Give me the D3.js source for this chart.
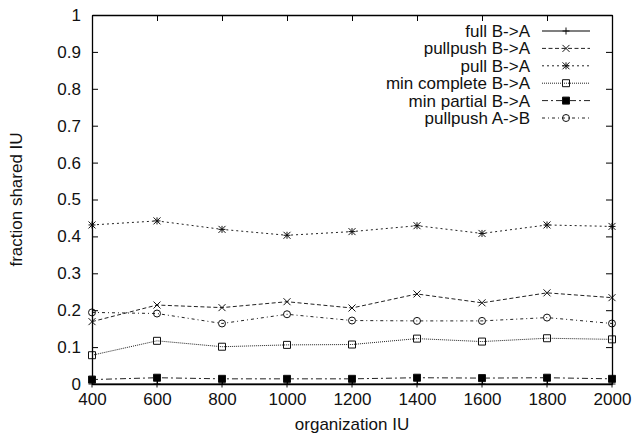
<!DOCTYPE html>
<html lang="en">
	<head>
		<meta charset="utf-8">
		<title>fraction shared IU</title>
		<script src="https://d3js.org/d3.v7.min.js"></script>
		<style type="text/css">
			body { margin: 0; background: #fff; }
			text { font-family: "Liberation Sans", Arial, sans-serif; font-size: 17px; fill: #111; }
		</style>
	</head>
	<body>
		<script type="text/javascript">

			const w = 636;
			const h = 438;
			const padL = 92, padR = 612, padT = 15, padB = 384;

			// data
			const orgIU = [400, 600, 800, 1000, 1200, 1400, 1600, 1800, 2000];
			const fullBA = [0, 0, 0, 0, 0, 0, 0, 0, 0];
			const pullpushBA = [0.169, 0.214, 0.207, 0.223, 0.206, 0.244, 0.220, 0.247, 0.234];
			const pullBA = [0.431, 0.442, 0.419, 0.403, 0.413, 0.429, 0.408, 0.431, 0.427];
			const minCompleteBA = [0.078, 0.117, 0.101, 0.106, 0.107, 0.123, 0.115, 0.124, 0.121];
			const minPartialBA = [0.012, 0.017, 0.014, 0.014, 0.014, 0.017, 0.016, 0.017, 0.014];
			const pullpushAB = [0.194, 0.191, 0.164, 0.189, 0.172, 0.171, 0.171, 0.180, 0.164];
			const yTicks = [0, 0.1, 0.2, 0.3, 0.4, 0.5, 0.6, 0.7, 0.8, 0.9, 1];
			const xTicks = [400, 600, 800, 1000, 1200, 1400, 1600, 1800, 2000];

			const series = [
				{ name: "full B->A", values: fullBA, dash: null, marker: "plus" },
				{ name: "pullpush B->A", values: pullpushBA, dash: "4,2.5", marker: "cross" },
				{ name: "pull B->A", values: pullBA, dash: "2,3", marker: "star" },
				{ name: "min complete B->A", values: minCompleteBA, dash: "1,1", marker: "box" },
				{ name: "min partial B->A", values: minPartialBA, dash: "6,3,2,3", marker: "fbox" },
				{ name: "pullpush A->B", values: pullpushAB, dash: "3,3,1,3", marker: "circle" }
			];

			const xScale = d3.scaleLinear().domain([400, 2000]).range([padL, padR]);
			const yScale = d3.scaleLinear().domain([0, 1]).range([padB, padT]);

			const svg = d3.select("body")
						.append("svg")
						.attr("width", w)
						.attr("height", h);

			const markerPath = (type, s) => {
				if (type === "plus") return `M${-s},0H${s}M0,${-s}V${s}`;
				if (type === "cross") return `M${-s},${-s}L${s},${s}M${-s},${s}L${s},${-s}`;
				if (type === "star") return `M${-s},0H${s}M0,${-s}V${s}M${-s},${-s}L${s},${s}M${-s},${s}L${s},${-s}`;
				if (type === "box" || type === "fbox") return `M${-s},${-s}H${s}V${s}H${-s}Z`;
				return d3.arc()({ innerRadius: 0, outerRadius: s, startAngle: 0, endAngle: 2 * Math.PI });
			};

			const drawMarker = (g, type, x, y) => {
				g.append("path")
					.attr("d", markerPath(type, 3.5))
					.attr("transform", "translate(" + x + "," + y + ")")
					.attr("fill", type === "fbox" ? "#000" : "none")
					.attr("stroke", "#111")
					.attr("stroke-width", 1);
			};

			const line = d3.line()
				.x((d, i) => xScale(orgIU[i]))
				.y((d) => yScale(d));

			series.forEach((s) => {
				const g = svg.append("g");
				g.append("path")
					.attr("d", line(s.values))
					.attr("fill", "none")
					.attr("stroke", s.dash ? "#222" : "#555")
					.attr("stroke-width", s.dash ? 1 : 1.5)
					.attr("stroke-dasharray", s.dash);
				s.values.forEach((v, i) => drawMarker(g, s.marker, xScale(orgIU[i]), yScale(v)));
			});

			// frame and ticks (gnuplot style, inward + mirrored)
			const axes = svg.append("g");
			axes.append("g")
				.attr("transform", "translate(0," + padB + ")")
				.call(d3.axisBottom(xScale).tickValues(xTicks).tickSizeInner(-6).tickSizeOuter(0).tickPadding(9).tickFormat(d3.format("d")));
			axes.append("g")
				.attr("transform", "translate(0," + padT + ")")
				.call(d3.axisTop(xScale).tickValues(xTicks).tickSizeInner(-6).tickSizeOuter(0).tickFormat(""));
			axes.append("g")
				.attr("transform", "translate(" + padL + ",0)")
				.call(d3.axisLeft(yScale).tickValues(yTicks).tickSizeInner(-6).tickSizeOuter(0).tickPadding(11).tickFormat(d3.format("")));
			axes.append("g")
				.attr("transform", "translate(" + padR + ",0)")
				.call(d3.axisRight(yScale).tickValues(yTicks).tickSizeInner(-6).tickSizeOuter(0).tickFormat(""));
			axes.selectAll(".domain").attr("stroke", "#000").attr("stroke-width", 1.3);
			axes.selectAll(".tick line").attr("stroke", "#000");
			axes.selectAll(".tick text").attr("font-size", 17).attr("font-family", null).attr("fill", "#111");

			// legend
			const legend = svg.append("g");
			series.forEach((s, i) => {
				const y = 31 + i * 17.4;
				legend.append("text")
					.attr("x", 530)
					.attr("y", y)
					.attr("dy", "0.35em")
					.attr("text-anchor", "end")
					.text(s.name);
				legend.append("line")
					.attr("x1", 542).attr("x2", 590)
					.attr("y1", y).attr("y2", y)
					.attr("stroke", s.dash ? "#222" : "#555")
					.attr("stroke-width", s.dash ? 1 : 1.5)
					.attr("stroke-dasharray", s.dash);
				drawMarker(legend, s.marker, 566, y);
			});

			svg.append("text")
				.attr("x", (padL + padR) / 2)
				.attr("y", 430)
				.attr("text-anchor", "middle")
				.text("organization IU");

			svg.append("text")
				.attr("transform", "translate(22," + ((padT + padB) / 2) + ") rotate(-90)")
				.attr("text-anchor", "middle")
				.text("fraction shared IU");

		</script>
	</body>
</html>
